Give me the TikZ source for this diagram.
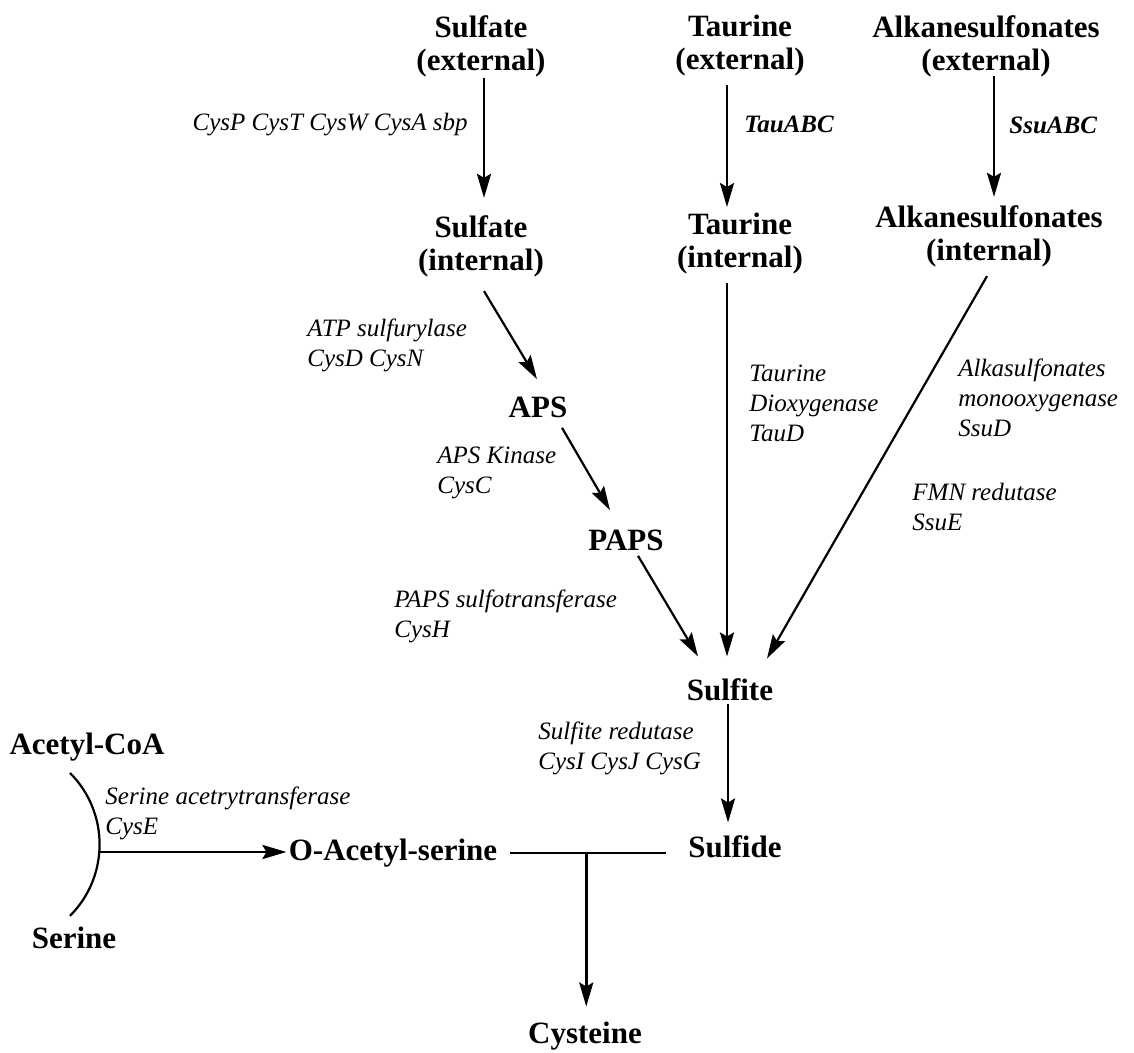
\documentclass[tikz,border=0pt]{standalone}
\usepackage{fontspec}
\setmainfont{Liberation Serif}
\usetikzlibrary{arrows.meta}
\tikzset{
  met/.style={font=\fontsize{15.5}{16.5}\selectfont\bfseries, align=center, inner sep=0pt},
  enz/.style={font=\fontsize{12.5}{15}\selectfont\itshape, align=left, inner sep=0pt, anchor=west},
  enzbf/.style={enz, font=\fontsize{12.5}{15}\selectfont\bfseries\itshape},
  arr/.style={-{Stealth[length=12pt,width=7pt,inset=2pt]}, line width=1.4pt},
  darr/.style={arr, line width=1.1pt},
}
\begin{document}
\begin{tikzpicture}[x=0.5pt,y=-0.5pt]
\useasboundingbox (0,0) rectangle (1134,1053);
% metabolites
\node[met] (sulfext) at (481,46) {Sulfate\\(external)};
\node[met] (sulfint) at (481,246) {Sulfate\\(internal)};
\node[met] (aps) at (538,407) {APS};
\node[met] (paps) at (626,540) {PAPS};
\node[met] (taurext) at (740,46) {Taurine\\(external)};
\node[met] (taurint) at (740,244) {Taurine\\(internal)};
\node[met] (alkext) at (986,46) {Alkanesulfonates\\(external)};
\node[met] (alkint) at (989,236) {Alkanesulfonates\\(internal)};
\node[met] (sulfite) at (730,690) {Sulfite};
\node[met] (sulfide) at (735,847) {Sulfide};
\node[met] (acoa) at (87,747) {Acetyl-CoA};
\node[met] (serine) at (74,938) {Serine};
\node[met] (oas) at (393,853) {O-Acetyl-serine};
\node[met] (cys) at (585,1036) {Cysteine};
% enzymes
\node[enz, anchor=east] (tcysp) at (468,125) {CysP CysT CysW CysA sbp};
\node[enz] (tatp) at (307,345) {ATP sulfurylase\\CysD CysN};
\node[enz] (tapsk) at (437,473) {APS Kinase\\CysC};
\node[enz] (tpapsst) at (394,616) {PAPS sulfotransferase\\CysH};
\node[enzbf] (ttauabc) at (744,124) {TauABC};
\node[enzbf] (tssuabc) at (1009,125) {SsuABC};
\node[enz] (ttaud) at (749,403) {Taurine\\Dioxygenase\\TauD};
\node[enz] (tssud) at (958,398) {Alkasulfonates\\monooxygenase\\SsuD};
\node[enz] (tssue) at (912,507) {FMN redutase\\SsuE};
\node[enz] (tcysi) at (538,748) {Sulfite redutase\\CysI CysJ CysG};
\node[enz] (tcyse) at (105,813) {Serine acetrytransferase\\CysE};
% sulfate branch
\draw[arr] ([shift={(3,1)}]sulfext.south) -- ([shift={(3,-17)}]sulfint.north);
\draw[darr] ([shift={(3,14)}]sulfint.south) -- ([shift={(-1,-17)}]aps.north);
\draw[darr] ([shift={(24,10)}]aps.south) -- ([shift={(-16,-19)}]paps.north);
\draw[darr] ([shift={(12,5)}]paps.south) -- ([shift={(-32,-22)}]sulfite.north);
% taurine and alkanesulfonates
\draw[arr] ([shift={(-13,8)}]taurext.south) -- ([shift={(-13,-6)}]taurint.north);
\draw[arr] ([shift={(-13,8)}]taurint.south) -- ([shift={(-3,-22)}]sulfite.north);
\draw[arr] ([shift={(8,-1)}]alkext.south) -- ([shift={(5,-8)}]alkint.north);
\draw[darr] ([shift={(-2,9)}]alkint.south) -- ([shift={(37,-20)}]sulfite.north);
\draw[arr] ([shift={(-2,2)}]sulfite.south) -- ([shift={(-7,-13)}]sulfide.north);
% cysteine synthesis
\coordinate (join) at (99,852);
\draw[line width=1.1pt] (join) ++(-29,-79) arc[start angle=-45, end angle=45, radius=101];
\draw[arr, shorten >=1pt] (join) -- (join -| oas.west);
\draw[line width=1.4pt] ([xshift=6pt]oas.east) -- coordinate[pos=0.49] (tee) ([xshift=-11pt]oas.east -| sulfide.west);
\draw[arr, shorten >=7.5pt] (tee) -- (tee |- cys.north);
\end{tikzpicture}
\end{document}
